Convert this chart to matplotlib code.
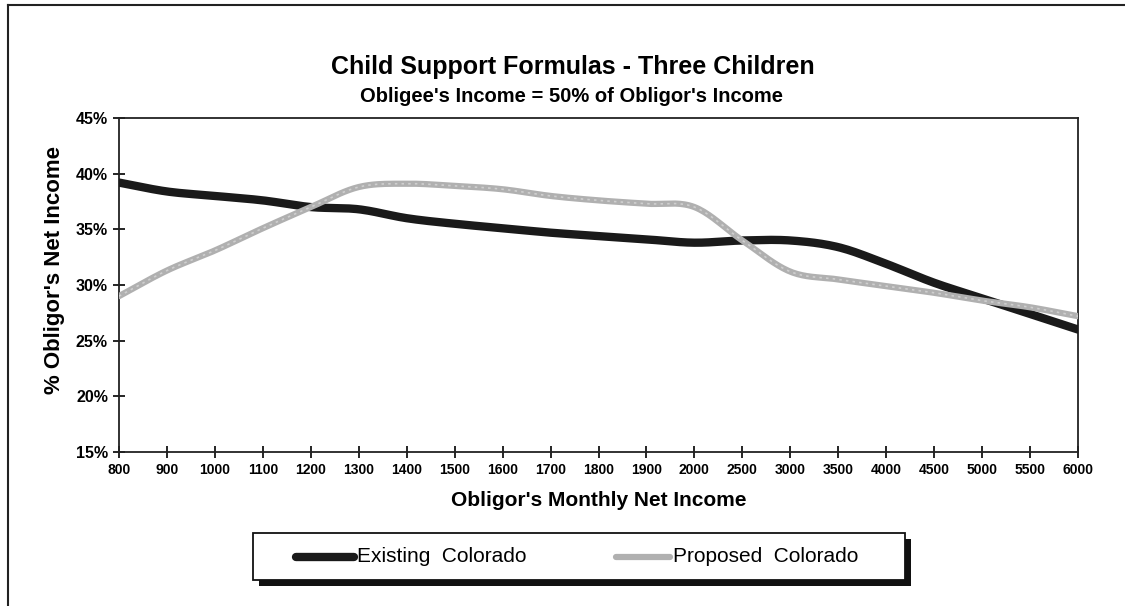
import numpy as np
import matplotlib
matplotlib.use("Agg")
import matplotlib.pyplot as plt
from matplotlib.lines import Line2D
from matplotlib.patches import Rectangle

plt.rcParams['font.family'] = ['Liberation Sans', 'DejaVu Sans']

# Data
incomes = ['800', '900', '1000', '1100', '1200', '1300', '1400', '1500', '1600',
           '1700', '1800', '1900', '2000', '2500', '3000', '3500', '4000',
           '4500', '5000', '5500', '6000']
existing = [39.2, 38.4, 38.0, 37.6, 37.0, 36.8, 36.0, 35.5, 35.1, 34.7, 34.4,
            34.1, 33.8, 34.0, 34.0, 33.4, 31.9, 30.2, 28.8, 27.4, 26.0]
proposed = [29.0, 31.3, 33.1, 35.1, 37.0, 38.8, 39.1, 38.9, 38.6, 38.0, 37.6,
            37.3, 37.0, 34.0, 31.2, 30.5, 29.9, 29.3, 28.6, 28.0, 27.2]
yticks = [15, 20, 25, 30, 35, 40, 45]


def smooth(y, n=20):
    # Catmull-Rom curve through the points, like Excel's smoothed line
    y = np.asarray(y, dtype=float)
    p = np.concatenate([[2 * y[0] - y[1]], y, [2 * y[-1] - y[-2]]])
    xs, ys = [], []
    for i in range(len(y) - 1):
        p0, p1, p2, p3 = p[i], p[i + 1], p[i + 2], p[i + 3]
        t = np.linspace(0, 1, n, endpoint=False)
        yy = 0.5 * (2 * p1 + (-p0 + p2) * t + (2 * p0 - 5 * p1 + 4 * p2 - p3) * t ** 2
                    + (-p0 + 3 * p1 - 3 * p2 + p3) * t ** 3)
        xs.append(i + t)
        ys.append(yy)
    xs.append([len(y) - 1])
    ys.append([y[-1]])
    return np.concatenate(xs), np.concatenate(ys)


fig = plt.figure(figsize=(11.25, 6.06), dpi=100)
W, H = 1125, 606
ax = fig.add_axes([119 / W, 1 - 452 / H, (1078 - 119) / W, (452 - 118) / H])

x = np.arange(len(incomes))
sx, sy = smooth(existing)
ax.plot(sx, sy, color='#1a1a1a', lw=6, solid_capstyle='round', zorder=3)
sx, sy = smooth(proposed)
ax.plot(sx, sy, color='#b0b0b0', lw=4.5, solid_capstyle='round', zorder=4)
ax.plot(sx, sy, color='#cfcfcf', lw=1.2, ls=(0, (1.5, 2.5)), zorder=5)

ax.set_xlim(0, len(incomes) - 1)
ax.set_ylim(15, 45)
ax.set_xticks(x)
ax.set_xticklabels(incomes)
ax.set_yticks(yticks)
ax.set_yticklabels([f'{v}%' for v in yticks])
ax.tick_params(direction='inout', length=8, width=1.2, pad=4)
ax.tick_params(axis='x', labelsize=10)
ax.tick_params(axis='y', labelsize=11.5)
for lab in ax.get_xticklabels() + ax.get_yticklabels():
    lab.set_fontweight('bold')
for s in ax.spines.values():
    s.set_linewidth(1.3)
    s.set_color('#222222')

ax.set_xlabel("Obligor's Monthly Net Income", fontsize=15, fontweight='bold', labelpad=10)
ax.set_ylabel("% Obligor's Net Income", fontsize=16, fontweight='bold')
ax.yaxis.set_label_coords(-0.056, 0.545)

fig.text(573 / W, 1 - 67 / H, 'Child Support Formulas - Three Children',
         ha='center', va='center', fontsize=18, fontweight='bold')
fig.text(572 / W, 1 - 97 / H, "Obligee's Income = 50% of Obligor's Income",
         ha='center', va='center', fontsize=14.5, fontweight='bold')

# outer frame (left and top edges visible)
fig.add_artist(Line2D([8 / W, 8 / W], [0, 1 - 5 / H], color='#222222', lw=1.5))
fig.add_artist(Line2D([8 / W, 1], [1 - 5 / H, 1 - 5 / H], color='#222222', lw=1.5))

# legend box with shadow
lx0, lx1, ly0, ly1 = 253, 905, 533, 580
fig.add_artist(Rectangle(((lx0 + 6) / W, 1 - (ly1 + 6) / H), (lx1 - lx0) / W,
                         (ly1 - ly0) / H, facecolor='#111111', edgecolor='none'))
fig.add_artist(Rectangle((lx0 / W, 1 - ly1 / H), (lx1 - lx0) / W, (ly1 - ly0) / H,
                         facecolor='white', edgecolor='#111111', lw=1.3))
ly = 1 - 557 / H
fig.add_artist(Line2D([296 / W, 354 / W], [ly, ly], color='#1a1a1a', lw=6,
                      solid_capstyle='round'))
fig.text(357 / W, ly, 'Existing  Colorado', va='center', fontsize=15)
fig.add_artist(Line2D([616 / W, 670 / W], [ly, ly], color='#b0b0b0', lw=4.5,
                      solid_capstyle='round'))
fig.text(673 / W, ly, 'Proposed  Colorado', va='center', fontsize=15)

fig.savefig('out.png', dpi=100)
